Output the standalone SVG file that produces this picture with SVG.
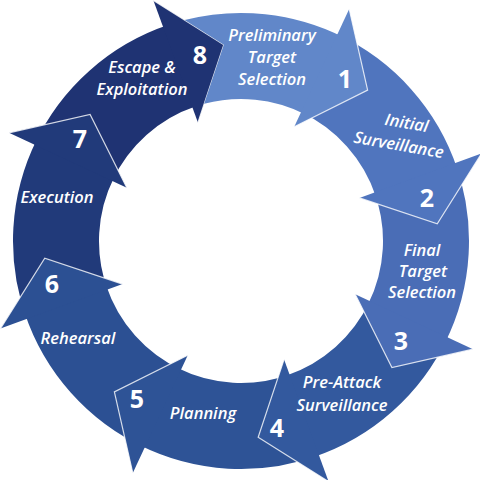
<svg xmlns="http://www.w3.org/2000/svg" width="480" height="480" viewBox="0 0 480 480">
<style>
.lbl{font-family:"Open Sans","Noto Sans","Liberation Sans",sans-serif;font-style:italic;font-weight:600;font-size:16.5px;fill:#fff;text-anchor:middle}
.num{font-family:"Open Sans","Noto Sans","Liberation Sans",sans-serif;font-weight:bold;font-size:25px;fill:#fff;text-anchor:middle}
.edge{fill:none;stroke:#fff;stroke-width:1.2;stroke-opacity:0.8;stroke-linejoin:miter}
</style>
<rect width="480" height="480" fill="#fff"/>
<g id="node8" fill="#1f3373">
<path d="M34.36 144.64 A228 228 0 0 1 168.66 24.78 L195.94 106.34 A142 142 0 0 0 112.3 180.99 Z"/>
<path d="M153.44 0.44 L223.83 44.75 L197.91 122.6 Z"/>
<path class="edge" d="M153.44 0.44 L223.83 44.75 L197.91 122.6"/>
<text class="lbl" x="142" y="73">Escape &amp;</text>
<text class="lbl" x="142" y="95">Exploitation</text>
<text class="num" x="200" y="64">8</text>
</g>
<g id="node7" fill="#213a7a">
<path d="M26.75 318.98 A228 228 0 0 1 36.96 139.27 L113.92 177.64 A142 142 0 0 0 107.56 289.57 Z"/>
<path d="M8.98 132.81 L90.09 114.37 L126.8 187.75 Z"/>
<path class="edge" d="M8.98 132.81 L90.09 114.37 L126.8 187.75"/>
<text class="lbl" x="57" y="203">Execution</text>
<text class="num" x="80" y="148">7</text>
</g>
<g id="node6" fill="#2c5093">
<path d="M144.64 447.64 A228 228 0 0 1 24.78 313.34 L106.34 286.06 A142 142 0 0 0 180.99 369.7 Z"/>
<path d="M0.44 328.56 L44.75 258.17 L122.6 284.09 Z"/>
<path class="edge" d="M0.44 328.56 L44.75 258.17 L122.6 284.09"/>
<text class="lbl" x="78" y="344">Rehearsal</text>
<text class="num" x="52" y="293">6</text>
</g>
<g id="node5" fill="#2e5396">
<path d="M318.98 455.25 A228 228 0 0 1 139.27 445.04 L177.64 368.08 A142 142 0 0 0 289.57 374.44 Z"/>
<path d="M132.81 473.02 L114.37 391.91 L187.75 355.2 Z"/>
<path class="edge" d="M132.81 473.02 L114.37 391.91 L187.75 355.2"/>
<text class="lbl" x="203" y="419">Planning</text>
<text class="num" x="137" y="408">5</text>
</g>
<g id="node4" fill="#33599e">
<path d="M447.64 337.36 A228 228 0 0 1 313.34 457.22 L286.06 375.66 A142 142 0 0 0 369.7 301.01 Z"/>
<path d="M328.56 481.56 L258.17 437.25 L284.09 359.4 Z"/>
<path class="edge" d="M328.56 481.56 L258.17 437.25 L284.09 359.4"/>
<text class="lbl" x="342" y="388">Pre-Attack</text>
<text class="lbl" x="342" y="411">Surveillance</text>
<text class="num" x="277" y="437">4</text>
</g>
<g id="node3" fill="#4a6db6">
<path d="M455.25 163.02 A228 228 0 0 1 445.04 342.73 L368.08 304.36 A142 142 0 0 0 374.44 192.43 Z"/>
<path d="M473.02 349.19 L391.91 367.63 L355.2 294.25 Z"/>
<path class="edge" d="M473.02 349.19 L391.91 367.63 L355.2 294.25"/>
<text class="lbl" x="422" y="256">Final</text>
<text class="lbl" x="423" y="277">Target</text>
<text class="lbl" x="422" y="298">Selection</text>
<text class="num" x="401" y="350">3</text>
</g>
<g id="node2" fill="#5075be">
<path d="M337.36 34.36 A228 228 0 0 1 457.22 168.66 L375.66 195.94 A142 142 0 0 0 301.01 112.3 Z"/>
<path d="M481.56 153.44 L437.25 223.83 L359.4 197.91 Z"/>
<path class="edge" d="M481.56 153.44 L437.25 223.83 L359.4 197.91"/>
<g transform="rotate(10 402 138)">
<text class="lbl" x="404" y="128">Initial</text>
<text class="lbl" x="400" y="151">Surveillance</text>
</g>
<text class="num" x="427" y="207">2</text>
</g>
<g id="node1" fill="#6187c9">
<path d="M184.64 20.08 A228 228 0 0 1 342.73 36.96 L304.36 113.92 A142 142 0 0 0 204.15 103.86 L223.83 44.75 Z"/>
<path d="M349.19 8.98 L367.63 90.09 L294.25 126.8 Z"/>
<path class="edge" d="M349.19 8.98 L367.63 90.09 L294.25 126.8"/>
<text class="lbl" x="272" y="41">Preliminary</text>
<text class="lbl" x="272" y="63">Target</text>
<text class="lbl" x="272" y="85">Selection</text>
<text class="num" x="345" y="88">1</text>
</g>
</svg>
